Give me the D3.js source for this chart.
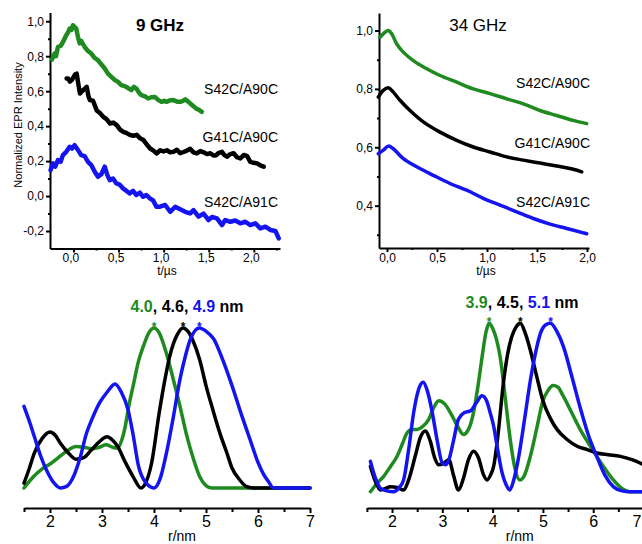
<!DOCTYPE html>
<html>
<head>
<meta charset="utf-8">
<script src="https://cdn.jsdelivr.net/npm/d3@7"></script>
<style>
  body { margin: 0; background: #fff; }
  svg { display: block; font-family: "Liberation Sans", Arial, sans-serif; }
  .axis path, .axis line { stroke: #000; stroke-width: 2; }
  .axis text { fill: #000; }
</style>
</head>
<body>
<script>
// time traces, 9 GHz (t in µs, normalized intensity)
const x9Green = [-0.239,-0.209,-0.194,-0.172,-0.139,-0.117,-0.08,-0.061,-0.042,-0.022,-0.006,0.017,0.031,0.05,0.069,0.087,0.124,0.161,0.198,0.234,0.272,0.306,0.347,0.383,0.42,0.456,0.494,0.528,0.569,0.606,0.642,0.67,0.698,0.728,0.753,0.794,0.828,0.861,0.902,0.939,0.976,1.006,1.036,1.072,1.109,1.15,1.183,1.217,1.239,1.272,1.294,1.331,1.361,1.387,1.424]
const y9Green = [0.78,0.815,0.80,0.853,0.86,0.88,0.92,0.935,0.958,0.95,0.977,0.965,0.958,0.91,0.873,0.887,0.853,0.83,0.815,0.79,0.777,0.755,0.73,0.70,0.682,0.665,0.653,0.635,0.629,0.618,0.606,0.625,0.615,0.59,0.577,0.57,0.558,0.565,0.567,0.55,0.539,0.545,0.539,0.548,0.549,0.54,0.539,0.545,0.553,0.54,0.53,0.514,0.50,0.495,0.482]

const x9Black = [-0.076,-0.058,-0.039,-0.017,0.017,0.036,0.053,0.072,0.094,0.117,0.147,0.167,0.183,0.217,0.258,0.294,0.331,0.367,0.406,0.442,0.48,0.517,0.553,0.591,0.628,0.664,0.702,0.739,0.776,0.813,0.85,0.887,0.924,0.961,0.998,1.036,1.072,1.109,1.147,1.183,1.22,1.258,1.294,1.331,1.369,1.406,1.442,1.48,1.517,1.553,1.583,1.606,1.647,1.672,1.702,1.739,1.776,1.813,1.85,1.887,1.924,1.961,1.998,2.036,2.072,2.109]
const y9Black = [0.672,0.672,0.655,0.665,0.695,0.70,0.644,0.587,0.60,0.61,0.625,0.57,0.549,0.545,0.49,0.475,0.453,0.44,0.415,0.42,0.406,0.38,0.367,0.36,0.349,0.345,0.35,0.33,0.32,0.295,0.272,0.26,0.244,0.262,0.255,0.262,0.25,0.253,0.265,0.245,0.252,0.26,0.27,0.25,0.244,0.258,0.25,0.24,0.245,0.232,0.234,0.245,0.253,0.235,0.225,0.24,0.245,0.222,0.215,0.235,0.23,0.196,0.19,0.187,0.175,0.168]

const x9Blue = [-0.253,-0.228,-0.202,-0.172,-0.142,-0.117,-0.08,-0.042,-0.017,0.013,0.05,0.087,0.124,0.161,0.198,0.236,0.272,0.309,0.347,0.376,0.402,0.439,0.476,0.513,0.55,0.587,0.624,0.661,0.698,0.736,0.772,0.809,0.847,0.883,0.92,0.961,1.017,1.072,1.128,1.183,1.239,1.294,1.331,1.387,1.442,1.498,1.536,1.591,1.647,1.683,1.739,1.794,1.85,1.906,1.961,2.017,2.072,2.128,2.183,2.239,2.276]
const y9Blue = [0.149,0.187,0.168,0.206,0.196,0.234,0.253,0.282,0.272,0.291,0.263,0.234,0.228,0.196,0.177,0.139,0.11,0.125,0.168,0.12,0.091,0.10,0.072,0.065,0.044,0.03,0.015,0.03,0.006,0.02,-0.004,0.006,-0.013,-0.025,-0.061,-0.061,-0.051,-0.09,-0.061,-0.075,-0.09,-0.099,-0.08,-0.118,-0.10,-0.137,-0.12,-0.128,-0.166,-0.137,-0.147,-0.14,-0.156,-0.147,-0.166,-0.156,-0.185,-0.175,-0.194,-0.2,-0.242]

// time traces, 34 GHz
const x34Green = [-0.07,-0.02,0.013,0.047,0.097,0.163,0.263,0.397,0.53,0.697,0.863,1.03,1.197,1.363,1.53,1.697,1.863,1.997]
const y34Green = [0.977,0.994,1.0,0.989,0.954,0.926,0.897,0.869,0.846,0.823,0.80,0.784,0.766,0.749,0.726,0.709,0.692,0.681]
const x34Black = [-0.087,-0.037,0.013,0.063,0.13,0.23,0.363,0.53,0.697,0.863,1.03,1.197,1.363,1.53,1.697,1.863,1.947]
const y34Black = [0.772,0.795,0.804,0.789,0.761,0.726,0.687,0.652,0.624,0.601,0.584,0.567,0.556,0.546,0.536,0.525,0.516]
const x34Blue = [-0.087,-0.037,0.013,0.063,0.163,0.297,0.463,0.63,0.797,0.963,1.13,1.297,1.463,1.63,1.797,1.963,1.997]
const y34Blue = [0.578,0.59,0.604,0.595,0.561,0.533,0.504,0.476,0.453,0.425,0.402,0.379,0.356,0.337,0.322,0.307,0.304]

// distance distributions (r in nm, normalized P(r))
const r9Green = [1.5,1.68,1.85,2.0,2.16,2.32,2.5,2.65,2.8,2.95,3.08,3.2,3.3,3.38,3.45,3.52,3.6,3.7,3.8,3.9,4.0,4.1,4.24,4.37,4.5,4.62,4.76,4.88,5.0,5.11,7.0]
const p9Green = [0,0.07,0.12,0.15,0.19,0.23,0.26,0.255,0.245,0.255,0.27,0.255,0.25,0.3,0.39,0.52,0.64,0.79,0.89,0.97,1.0,0.97,0.84,0.68,0.51,0.34,0.18,0.07,0.015,0,0]
const r9Black = [1.5,1.6,1.7,1.85,2.0,2.1,2.2,2.35,2.5,2.65,2.8,2.95,3.1,3.2,3.3,3.45,3.6,3.75,3.85,3.95,4.1,4.2,4.3,4.45,4.56,4.65,4.75,4.88,5.0,5.14,5.27,5.4,5.5,5.65,5.77,5.9,7.0]
const p9Black = [0.03,0.12,0.22,0.31,0.35,0.33,0.28,0.22,0.18,0.19,0.24,0.29,0.32,0.3,0.26,0.16,0.07,0.0,0.04,0.15,0.47,0.66,0.82,0.96,1.0,0.98,0.92,0.8,0.64,0.48,0.34,0.22,0.125,0.05,0.01,0,0]
const r9Blue = [1.5,1.6,1.7,1.82,1.95,2.08,2.2,2.32,2.45,2.58,2.7,2.82,2.95,3.1,3.25,3.37,3.5,3.6,3.7,3.85,4.0,4.12,4.24,4.37,4.5,4.6,4.7,4.87,5.0,5.15,5.3,5.5,5.68,5.85,6.0,6.1,6.2,6.3,7.0]
const p9Blue = [0.51,0.42,0.32,0.2,0.10,0.03,0,0.01,0.07,0.19,0.34,0.44,0.53,0.6,0.65,0.6,0.49,0.33,0.14,0.03,0,0.06,0.22,0.44,0.68,0.82,0.93,1.0,0.98,0.93,0.82,0.64,0.46,0.30,0.16,0.09,0.04,0,0]

const r34Green = [1.57,1.7,1.83,1.97,2.1,2.2,2.3,2.4,2.5,2.62,2.73,2.83,2.93,3.05,3.16,3.3,3.42,3.52,3.62,3.72,3.79,3.87,3.93,4.0,4.08,4.15,4.25,4.35,4.45,4.54,4.62,4.75,4.88,5.0,5.1,5.2,5.3,5.4,5.57,5.74,5.9,6.07,6.25,6.4,6.57,6.73,7.0]
const p34Green = [0,0.05,0.09,0.15,0.21,0.28,0.35,0.37,0.37,0.39,0.43,0.5,0.54,0.52,0.47,0.39,0.34,0.37,0.47,0.65,0.80,0.95,1.0,0.97,0.90,0.8,0.56,0.31,0.13,0.07,0.09,0.21,0.38,0.54,0.6,0.63,0.62,0.57,0.47,0.37,0.29,0.21,0.13,0.07,0.02,0,0]
const r34Black = [1.57,1.67,1.77,1.87,1.97,2.1,2.23,2.33,2.46,2.56,2.66,2.76,2.85,2.93,3.03,3.13,3.22,3.32,3.42,3.52,3.62,3.72,3.82,3.89,3.96,4.02,4.1,4.22,4.3,4.38,4.47,4.55,4.65,4.75,4.88,5.0,5.14,5.28,5.48,5.68,5.88,6.07,6.3,6.54,6.77,7.0]
const p34Black = [0.15,0.06,0.01,0.02,0.03,0.025,0.01,0.07,0.21,0.32,0.36,0.3,0.2,0.16,0.17,0.19,0.1,0.01,0.08,0.19,0.24,0.2,0.1,0.07,0.1,0.15,0.32,0.66,0.82,0.92,0.98,1.0,0.94,0.84,0.68,0.54,0.44,0.37,0.31,0.27,0.25,0.23,0.22,0.21,0.19,0.16]
const r34Blue = [1.57,1.67,1.77,1.9,2.03,2.13,2.23,2.33,2.43,2.53,2.62,2.7,2.8,2.9,3.0,3.07,3.13,3.22,3.32,3.44,3.56,3.68,3.79,3.88,3.95,4.02,4.1,4.19,4.27,4.34,4.42,4.52,4.64,4.75,4.85,4.95,5.05,5.15,5.28,5.41,5.57,5.74,5.9,6.07,6.23,6.4,6.57,6.73,7.0]
const p34Blue = [0.18,0.08,0.02,0.005,0,0.02,0.07,0.25,0.47,0.61,0.65,0.6,0.47,0.3,0.17,0.16,0.19,0.3,0.43,0.47,0.48,0.53,0.57,0.54,0.47,0.39,0.25,0.11,0.04,0.01,0.07,0.21,0.44,0.66,0.82,0.94,0.99,1.0,0.95,0.86,0.69,0.5,0.34,0.21,0.1,0.03,0.005,0,0]

const traceNames = ["S42C/A90C", "G41C/A90C", "S42C/A91C"]
const peaks9 = ["4.0", "4.6", "4.9"]
const peaks34 = ["3.9", "4.5", "5.1"]
const peakR9 = [4.0, 4.56, 4.87]
const peakR34 = [3.93, 4.55, 5.15]
const tTicks = [0, 0.5, 1.0, 1.5, 2.0]
const rTicks = [2, 3, 4, 5, 6, 7]

const colors = ["#1f8a1f", "#000000", "#1414f0"]
const fontFam = '"Liberation Sans", Arial, sans-serif'
const W = 642

const svg = d3.select("body").append("svg")
    .attr("width", W)
    .attr("height", 544)

const fmt = d3.formatLocale({ decimal: ",", thousands: ".", grouping: [3], currency: ["", ""], minus: "-" }).format(".1f")

function zip(xs, ys) {
    return xs.map((x, i) => [x, ys[i]])
}

function drawLine(xs, ys, x, y, color, width, curve) {
    let line = d3.line()
        .x(d => x(d[0]))
        .y(d => y(d[1]))
        .curve(curve)
    svg.append("path")
        .datum(zip(xs, ys))
        .attr("d", line)
        .attr("fill", "none")
        .attr("stroke", color)
        .attr("stroke-width", width)
        .attr("stroke-linejoin", "round")
        .attr("stroke-linecap", "round")
}

function timePanel(x, y, yMajor, yMinor, tMinor, fs, dxLab) {
    let ax = svg.append("g").attr("class", "axis")
        .attr("transform", `translate(0,${y.range()[0]})`)
        .call(d3.axisBottom(x).tickValues(tTicks).tickFormat(fmt).tickSize(4).tickPadding(1).tickSizeOuter(0))
    ax.selectAll("text").attr("font-size", fs).attr("font-family", fontFam).attr("dx", dxLab)
    svg.append("g").attr("class", "axis")
        .attr("transform", `translate(0,${y.range()[0]})`)
        .call(d3.axisBottom(x).tickValues(tMinor).tickFormat("").tickSize(2).tickSizeOuter(0))
        .select(".domain").remove()

    let ay = svg.append("g").attr("class", "axis")
        .attr("transform", `translate(${x.range()[0]},0)`)
        .call(d3.axisLeft(y).tickValues(yMajor).tickFormat(fmt).tickSize(4).tickPadding(2).tickSizeOuter(0))
    ay.selectAll("text").attr("font-size", fs).attr("font-family", fontFam)
    svg.append("g").attr("class", "axis")
        .attr("transform", `translate(${x.range()[0]},0)`)
        .call(d3.axisLeft(y).tickValues(yMinor).tickFormat("").tickSize(2).tickSizeOuter(0))
        .select(".domain").remove()

    svg.append("text")
        .attr("x", (x.range()[0] + x.range()[1]) / 2 + 2)
        .attr("y", 275)
        .attr("text-anchor", "middle")
        .attr("font-size", 12)
        .text("t/µs")
}

function distPanel(x, y, axisY, rs, ps, peaks, peakR, titleX, titleY) {
    let ax = svg.append("g").attr("class", "axis")
        .attr("transform", `translate(0,${axisY})`)
        .call(d3.axisBottom(x).tickValues(rTicks).tickFormat(d3.format("d")).tickSize(5).tickPadding(3).tickSizeOuter(0))
    ax.select(".domain").attr("stroke-width", 2.5)
    ax.selectAll("text").attr("font-size", 16).attr("font-family", fontFam)
    // keep a label that would fall past the right edge inside the page
    ax.selectAll("text")
        .filter(d => x(d) > W - 6)
        .attr("text-anchor", "end")
        .attr("x", d => W - 1 - x(d))

    svg.append("g").attr("class", "axis")
        .attr("transform", `translate(0,${axisY})`)
        .call(d3.axisBottom(x).tickValues(d3.range(1.5, 7, 1)).tickFormat("").tickSize(4).tickSizeOuter(0))
        .select(".domain").remove()

    svg.append("text")
        .attr("x", (x(2) + x(7)) / 2 + 2)
        .attr("y", 541)
        .attr("text-anchor", "middle")
        .attr("font-size", 14)
        .text("r/nm")

    for (let i = 0; i < 3; i++) {
        drawLine(rs[i], ps[i], x, y, colors[i], 3.5, d3.curveMonotoneX)
    }

    let t = svg.append("text")
        .attr("x", titleX)
        .attr("y", titleY)
        .attr("text-anchor", "middle")
        .attr("font-size", 16)
        .attr("font-weight", "bold")
    peaks.forEach((p, i) => {
        t.append("tspan").attr("fill", colors[i]).text(p)
        if (i < 2) t.append("tspan").attr("fill", "#000").text(", ")
    })
    t.append("tspan").attr("fill", "#000").text(" nm")

    peakR.forEach((r, i) => {
        svg.append("text")
            .attr("x", x(r))
            .attr("y", y(1) + 3)
            .attr("text-anchor", "middle")
            .attr("font-size", 12)
            .attr("font-weight", "bold")
            .attr("fill", colors[i])
            .text("*")
    })
}

// ---- 9 GHz ----
const x9 = d3.scaleLinear().domain([-0.26, 2.29]).range([50, 280])
const y9 = d3.scaleLinear().domain([-0.3, 1.05]).range([248.5, 12.5])
timePanel(x9, y9, [-0.2, 0, 0.2, 0.4, 0.6, 0.8, 1.0], [-0.1, 0.1, 0.3, 0.5, 0.7, 0.9], [0.25, 0.75, 1.25, 1.75, 2.25], 12, -3)
drawLine(x9Green, y9Green, x9, y9, colors[0], 4.5, d3.curveLinear)
drawLine(x9Black, y9Black, x9, y9, colors[1], 4.5, d3.curveLinear)
drawLine(x9Blue, y9Blue, x9, y9, colors[2], 4.5, d3.curveLinear)

svg.append("text")
    .attr("x", 160).attr("y", 31)
    .attr("text-anchor", "middle")
    .attr("font-size", 17)
    .attr("font-weight", "bold")
    .text("9 GHz")

svg.append("text")
    .attr("transform", "translate(22,125) rotate(-90)")
    .attr("text-anchor", "middle")
    .attr("font-size", 11)
    .text("Normalized EPR Intensity")

const lab9Y = [94, 142, 207]
traceNames.forEach((n, i) => {
    svg.append("text")
        .attr("x", 278).attr("y", lab9Y[i])
        .attr("text-anchor", "end")
        .attr("font-size", 14)
        .text(n)
})

// ---- 34 GHz ----
const x34 = d3.scaleLinear().domain([-0.08, 2.02]).range([379, 589])
const y34 = d3.scaleLinear().domain([0.255, 1.06]).range([248, 13])
timePanel(x34, y34, [0.4, 0.6, 0.8, 1.0], [0.3, 0.5, 0.7, 0.9], [0.25, 0.75, 1.25, 1.75], 12, 0)
drawLine(x34Green, y34Green, x34, y34, colors[0], 3.5, d3.curveCatmullRom)
drawLine(x34Black, y34Black, x34, y34, colors[1], 3.5, d3.curveCatmullRom)
drawLine(x34Blue, y34Blue, x34, y34, colors[2], 3.5, d3.curveCatmullRom)

svg.append("text")
    .attr("x", 478).attr("y", 31)
    .attr("text-anchor", "middle")
    .attr("font-size", 17)
    .text("34 GHz")

const lab34Y = [88, 148, 207]
traceNames.forEach((n, i) => {
    svg.append("text")
        .attr("x", 590).attr("y", lab34Y[i])
        .attr("text-anchor", "end")
        .attr("font-size", 14)
        .text(n)
})

// ---- distance distributions ----
const xr9 = d3.scaleLinear().domain([1.5, 7]).range([24, 310])
const yr9 = d3.scaleLinear().domain([0, 1]).range([488, 328])
distPanel(xr9, yr9, 508, [r9Green, r9Black, r9Blue], [p9Green, p9Black, p9Blue], peaks9, peakR9, 187, 312)

const xr34 = d3.scaleLinear().domain([1.5, 7]).range([366.9, 643.5])
const yr34 = d3.scaleLinear().domain([0, 1]).range([491.7, 323.3])
distPanel(xr34, yr34, 508, [r34Green, r34Black, r34Blue], [p34Green, p34Black, p34Blue], peaks34, peakR34, 522, 308)
</script>
</body>
</html>
